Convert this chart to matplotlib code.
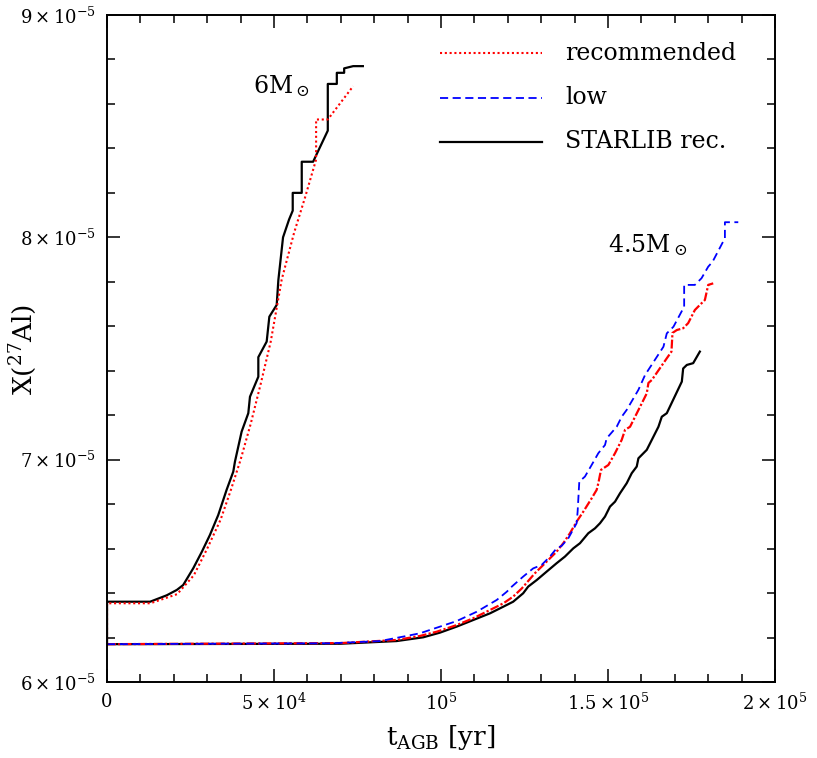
#Al-27 mass fraction along the AGB for the 4.5 and 6 Msun models, three rate choices

import matplotlib.pyplot as plt
import matplotlib.ticker as ticker
import numpy as np

# time in units of 1e4 yr, mass fraction in units of 1e-5
# 6 Msun, STARLIB rec.
t6_starlib = [0, 0, 1.29, 1.79, 2.09, 2.28, 2.58, 2.84, 3.08, 3.33, 3.58, 3.78, 3.83, 4.03,
              4.23, 4.28, 4.53, 4.53, 4.78, 4.86, 5.08, 5.13, 5.27, 5.45, 5.56, 5.56, 5.83,
              5.83, 6.17, 6.61, 6.61, 6.88, 6.88, 7.10, 7.10, 7.37, 7.66]
x6_starlib = [6.17, 6.361, 6.361, 6.39, 6.414, 6.436, 6.511, 6.586, 6.661, 6.751, 6.864, 6.946,
              6.991, 7.126, 7.209, 7.283, 7.373, 7.461, 7.531, 7.643, 7.696, 7.808, 8.00, 8.08,
              8.12, 8.20, 8.20, 8.34, 8.34, 8.48, 8.69, 8.69, 8.74, 8.74, 8.76, 8.77, 8.77]
# 6 Msun, recommended
t6_rec = [0, 0, 1.30, 1.59, 2.10, 2.60, 3.00, 3.40, 3.70, 4.00, 4.30, 4.60, 4.90, 5.23, 5.60,
          5.93, 6.26, 6.26, 6.61, 7.37]
x6_rec = [6.17, 6.354, 6.354, 6.369, 6.395, 6.48, 6.60, 6.73, 6.86, 7.00, 7.16, 7.34, 7.53,
          7.81, 8.02, 8.18, 8.35, 8.53, 8.53, 8.68]

# 4.5 Msun, low
t45_low = [0, 6.68, 8.17, 8.97, 9.37, 9.87, 10.47, 11.07, 11.67, 11.97, 12.12, 12.46, 12.76,
           13.01, 13.26, 13.46, 13.61, 13.81, 14.06, 14.09, 14.14, 14.31, 14.51, 14.71, 14.91,
           14.96, 15.26, 15.41, 15.56, 15.91, 16.11, 16.66, 16.76, 16.96, 17.28, 17.28, 17.60,
           17.80, 18.00, 18.13, 18.50, 18.50, 18.90]
x45_low = [6.17, 6.174, 6.184, 6.207, 6.219, 6.244, 6.274, 6.316, 6.369, 6.406, 6.429, 6.474,
           6.511, 6.526, 6.564, 6.601, 6.612, 6.646, 6.714, 6.766, 6.901, 6.924, 6.976, 7.029,
           7.066, 7.096, 7.148, 7.193, 7.224, 7.314, 7.381, 7.508, 7.568, 7.598, 7.688, 7.786,
           7.786, 7.816, 7.868, 7.89, 7.996, 8.068, 8.068]
# 4.5 Msun, recommended
t45_rec = [0, 7.0, 8.67, 9.37, 9.87, 10.47, 10.97, 11.47, 11.87, 12.16, 12.42, 12.81, 13.06,
           13.26, 13.46, 13.66, 13.86, 14.06, 14.26, 14.51, 14.66, 14.71, 14.79, 15.01, 15.21,
           15.41, 15.51, 15.66, 15.96, 16.16, 16.21, 16.31, 16.76, 16.90, 16.93, 17.06, 17.25,
           17.40, 17.60, 17.75, 17.90, 18.00, 18.15]
x45_rec = [6.17, 6.175, 6.189, 6.207, 6.226, 6.256, 6.287, 6.324, 6.354, 6.384, 6.421, 6.489,
           6.526, 6.556, 6.586, 6.624, 6.669, 6.721, 6.766, 6.826, 6.864, 6.894, 6.954, 6.976,
           7.029, 7.089, 7.134, 7.148, 7.238, 7.298, 7.345, 7.358, 7.456, 7.486, 7.57, 7.583,
           7.591, 7.614, 7.673, 7.696, 7.718, 7.786, 7.793]
# 4.5 Msun, STARLIB rec.
t45_starlib = [0, 7.0, 8.67, 9.47, 9.97, 10.47, 10.97, 11.47, 11.87, 12.16, 12.46, 12.61, 12.87,
               13.16, 13.46, 13.71, 13.96, 14.16, 14.41, 14.61, 14.76, 14.91, 15.06, 15.21,
               15.36, 15.56, 15.71, 15.86, 15.91, 16.16, 16.51, 16.61, 16.76, 17.21, 17.25,
               17.36, 17.55, 17.75]
x45_starlib = [6.17, 6.172, 6.184, 6.201, 6.222, 6.249, 6.279, 6.309, 6.339, 6.361, 6.399,
               6.429, 6.459, 6.496, 6.534, 6.564, 6.601, 6.624, 6.669, 6.691, 6.714, 6.744,
               6.789, 6.811, 6.849, 6.894, 6.939, 6.969, 7.006, 7.044, 7.148, 7.193, 7.209,
               7.351, 7.41, 7.426, 7.434, 7.486]

xtick_vals = [0, 5e4, 1e5, 1.5e5, 2e5]
xtick_labels = ['0', r'$5\times10^4$', r'$10^5$', r'$1.5\times10^5$', r'$2\times10^5$']
ytick_vals = [6e-5, 7e-5, 8e-5, 9e-5]
ytick_labels = [r'$6\times10^{-5}$', r'$7\times10^{-5}$', r'$8\times10^{-5}$', r'$9\times10^{-5}$']

legend_labels = ['recommended', 'low', 'STARLIB rec.']

plt.rcParams['font.family'] = ['DejaVu Serif']
plt.rcParams['mathtext.fontset'] = 'dejavuserif'


def scaled(t, x):
    return np.array(t) * 1e4, np.array(x) * 1e-5


fig = plt.figure(figsize=(8.17, 7.58), dpi=100)
ax = fig.add_axes([0.131, 0.1003, 0.8176, 0.8799])

dotted = (0, (1, 1.3))
dashed = (0, (4.5, 2.5))
styles = [dict(color='red', lw=1.5, linestyle=dotted),
          dict(color='blue', lw=1.3, linestyle=dashed),
          dict(color='black', lw=1.6, linestyle='-')]

ax.plot(*scaled(t45_starlib, x45_starlib), color='black', lw=1.6)
ax.plot(*scaled(t45_rec, x45_rec), color='red', lw=1.6, linestyle=(0, (4, 1, 1, 1)))
ax.plot(*scaled(t45_low, x45_low), color='blue', lw=1.3, linestyle=dashed)
ax.plot(*scaled(t6_starlib, x6_starlib), color='black', lw=1.6)
ax.plot(*scaled(t6_rec, x6_rec), color='red', lw=1.5, linestyle=dotted)

# legend drawn by hand, the way the original stacks it
for i, (lab, st) in enumerate(zip(legend_labels, styles)):
    yy = 0.9426 - i * 0.0663
    ax.plot([0.4985, 0.651], [yy, yy], transform=ax.transAxes, **st)
    ax.text(0.6856, yy, lab, transform=ax.transAxes, fontsize=17, va='center')

ax.text(4.37e4, 8.65e-5, r'6M$_\odot$', fontsize=17)
ax.text(15.01e4, 7.933e-5, r'4.5M$_\odot$', fontsize=17)

ax.set_xlim(0, 2e5)
ax.set_ylim(6e-5, 9e-5)
ax.set_xticks(xtick_vals, xtick_labels)
ax.set_yticks(ytick_vals, ytick_labels)
ax.xaxis.set_minor_locator(ticker.MultipleLocator(1e4))
ax.yaxis.set_minor_locator(ticker.MultipleLocator(2e-6))
ax.tick_params(which='both', direction='in', top=True, right=True, labelsize=13, width=1.1)
ax.tick_params(which='major', length=9.5, pad=8)
ax.tick_params(which='minor', length=5.8)
for s in ax.spines.values():
    s.set_linewidth(1.4)

ax.set_xlabel(r'$\mathrm{t_{AGB}}$ [yr]', fontsize=19, labelpad=6)
ax.set_ylabel(r'X($^{27}$Al)', fontsize=19)
ax.yaxis.set_label_coords(-0.102, 0.498)

fig.savefig('out.png', dpi=100)
